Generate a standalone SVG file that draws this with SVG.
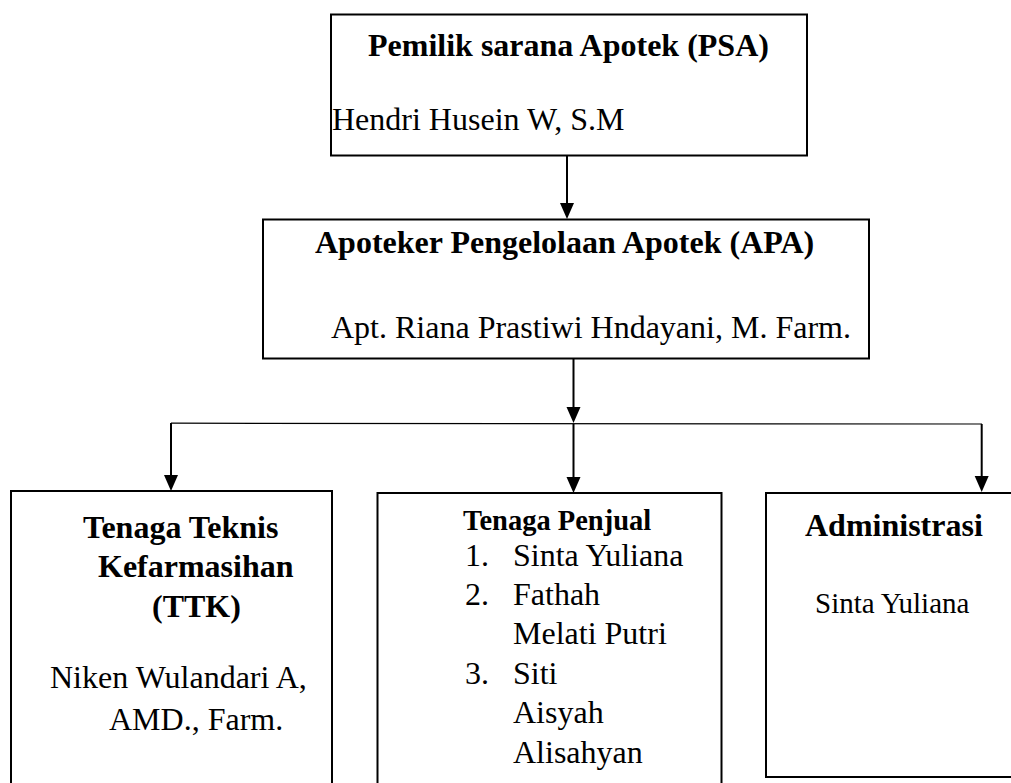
<svg xmlns="http://www.w3.org/2000/svg" width="1011" height="783" viewBox="0 0 1011 783">
<style>
.box{fill:#fff;stroke:#000;stroke-width:2}
.t{font-family:"Liberation Serif","Times New Roman",serif;font-size:32px;fill:#000}
.b{font-weight:bold}
.ln{stroke:#000;stroke-width:2;fill:none}
.hl{stroke:#000;stroke-width:1.2;fill:none}
.ah{fill:#000}
</style>
<rect width="1011" height="783" fill="#fff"/>
<g id="connectors">
<line class="ln" x1="567" y1="155" x2="567" y2="204"/>
<path class="ah" d="M560,203 L574,203 L567,219 Z"/>
<line class="ln" x1="573.5" y1="359" x2="573.5" y2="408"/>
<path class="ah" d="M566.5,407 L580.5,407 L573.5,423 Z"/>
<line class="hl" x1="171" y1="423.2" x2="982" y2="424"/>
<line class="ln" x1="171" y1="423" x2="171" y2="476"/>
<path class="ah" d="M164,475 L178,475 L171,491 Z"/>
<line class="ln" x1="573.5" y1="424" x2="573.5" y2="478"/>
<path class="ah" d="M566.5,477 L580.5,477 L573.5,493 Z"/>
<line class="ln" x1="981.7" y1="424" x2="981.7" y2="477"/>
<path class="ah" d="M974.7,476 L988.7,476 L981.7,492 Z"/>
</g>
<g id="psa">
<rect class="box" x="331" y="14.5" width="476" height="141"/>
<text class="t b" x="368" y="56">Pemilik sarana Apotek (PSA)</text>
<text class="t" x="332" y="130">Hendri Husein W, S.M</text>
</g>
<g id="apa">
<rect class="box" x="263" y="219.5" width="606" height="139"/>
<text class="t b" x="315" y="253">Apoteker Pengelolaan Apotek (APA)</text>
<text class="t" x="331" y="338">Apt. Riana Prastiwi Hndayani, M. Farm.</text>
</g>
<g id="ttk">
<rect class="box" x="11" y="491" width="321" height="300"/>
<text class="t b" x="83" y="538">Tenaga Teknis</text>
<text class="t b" x="98" y="577">Kefarmasihan</text>
<text class="t b" x="152" y="617">(TTK)</text>
<text class="t" x="50" y="688">Niken Wulandari A,</text>
<text class="t" x="109" y="730">AMD., Farm.</text>
</g>
<g id="penjual">
<rect class="box" x="377.5" y="493" width="344" height="300"/>
<text class="t b" x="463" y="530" style="font-size:28.5px">Tenaga Penjual</text>
<text class="t" x="465" y="566">1.</text>
<text class="t" x="513" y="566">Sinta Yuliana</text>
<text class="t" x="465" y="605">2.</text>
<text class="t" x="513" y="605">Fathah</text>
<text class="t" x="513" y="644">Melati Putri</text>
<text class="t" x="465" y="684">3.</text>
<text class="t" x="513" y="684">Siti</text>
<text class="t" x="513" y="723">Aisyah</text>
<text class="t" x="513" y="763">Alisahyan</text>
</g>
<g id="administrasi">
<rect class="box" x="766" y="493" width="260" height="284"/>
<text class="t b" x="805" y="536">Administrasi</text>
<text class="t" x="815" y="613" style="font-size:29px">Sinta Yuliana</text>
</g>
</svg>
